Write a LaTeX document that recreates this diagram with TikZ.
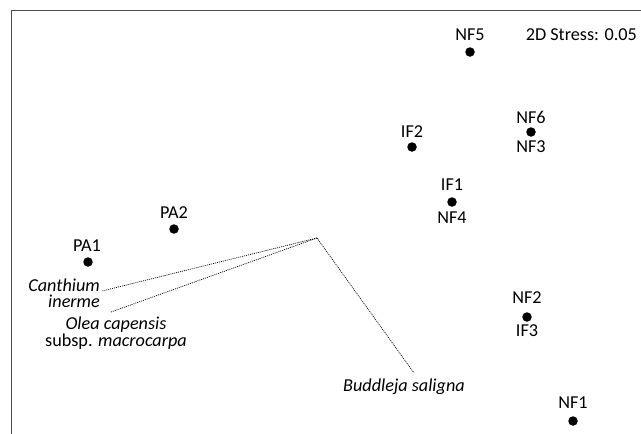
\documentclass[tikz,border=0pt]{standalone}
\usepackage{fontspec}
\setmainfont{Carlito}
\begin{document}
\begin{tikzpicture}[x=1pt,y=-1pt,
  dot/.style={circle,fill=black,inner sep=0pt,minimum size=9.5pt},
  lab/.style={inner sep=0pt,font=\fontsize{18.2}{16.5}\selectfont,text=black},
  vec/.style={draw=black,line width=0.7pt,dash pattern=on 1pt off 1pt},
  frame/.style={draw=black!70,line width=1pt}]
\useasboundingbox (0,0) rectangle (641,434);
\draw[frame] (11,434) -- (11,10.5) -- (641,10.5);
% sites
\node[dot] (dNF5) at (470,52) {};
\node[dot] (dNF6) at (531,132) {};
\node[dot] (dIF2) at (412,147) {};
\node[dot] (dIF1) at (452,202) {};
\node[dot] (dPA2) at (174,229) {};
\node[dot] (dPA1) at (88,262) {};
\node[dot] (dNF2) at (527,317) {};
\node[dot] (dNF1) at (573,421) {};
% labels
\node[lab] (NF5) at (470,35) {NF5};
\node[lab,anchor=east] (stress) at (637,35) {2D Stress: 0.05};
\node[lab] (NF6) at (531,117) {NF6};
\node[lab] (NF3) at (531,147) {NF3};
\node[lab] (IF2) at (412,132) {IF2};
\node[lab] (IF1) at (452,185) {IF1};
\node[lab] (NF4) at (452,218) {NF4};
\node[lab] (PA2) at (174,213) {PA2};
\node[lab] (PA1) at (87,246) {PA1};
\node[lab] (NF2) at (527,298) {NF2};
\node[lab] (IF3) at (527,331) {IF3};
\node[lab] (NF1) at (573,403) {NF1};
% species vectors
\coordinate (o) at (317,238);
\coordinate (eC) at (102,291);
\coordinate (eO) at (111,312);
\coordinate (eB) at (414,373);
\draw[vec] (o) -- (eC);
\draw[vec] (o) -- (eO);
\draw[vec] (o) -- (eB);
\node[lab,anchor=east,align=right] (canth) at (100,293) {\itshape Canthium\\\itshape inerme};
\node[lab,align=center] (olea) at (116,333) {\itshape Olea capensis\\subsp. \itshape macrocarpa};
\node[lab] (budd) at (404,387) {\itshape Buddleja saligna};
\end{tikzpicture}
\end{document}
